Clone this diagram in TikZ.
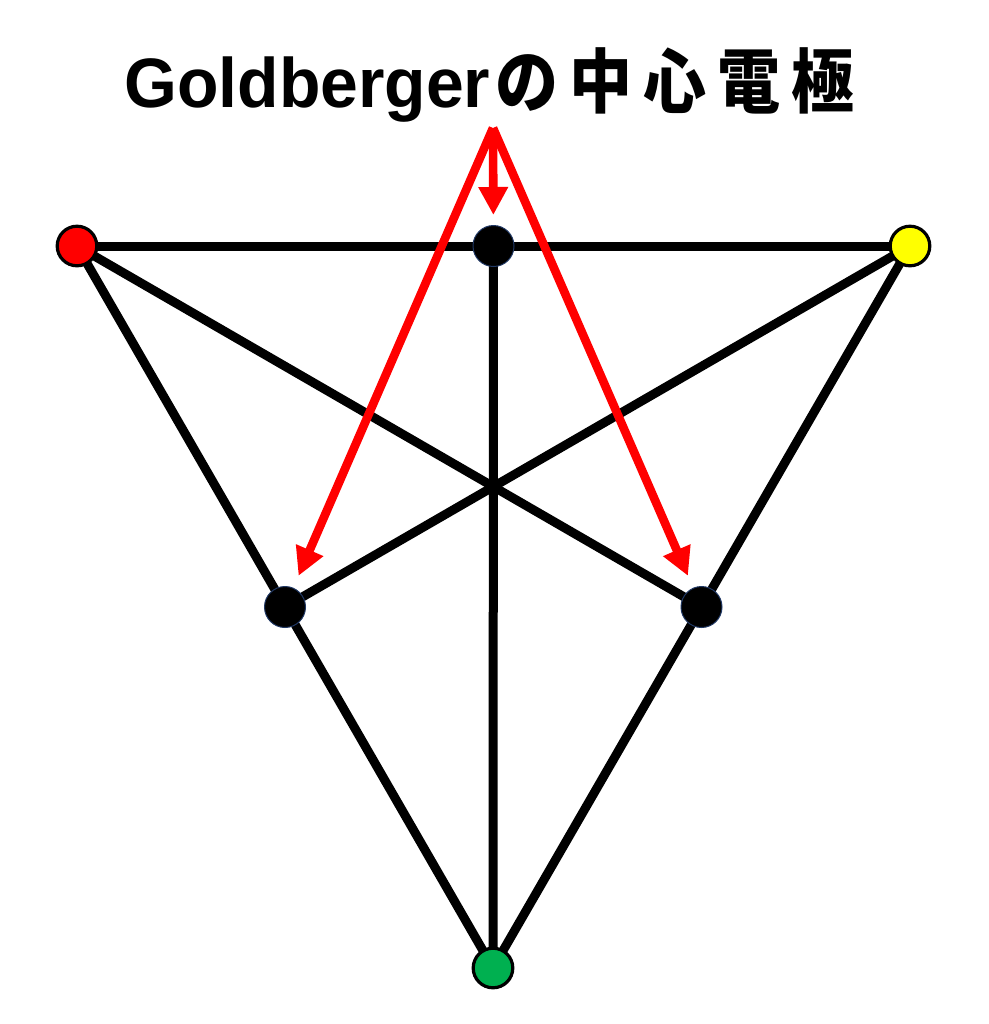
\documentclass[tikz,border=0pt]{standalone}
\usepackage{fontspec}
\setmainfont{Liberation Sans}
\newfontfamily\cjk{Noto Sans CJK JP}
\usetikzlibrary{arrows.meta,backgrounds}
\definecolor{navyrim}{HTML}{203864}
\definecolor{gfill}{HTML}{00B050}
\definecolor{yfill}{HTML}{FFFF00}
\definecolor{rfill}{HTML}{FF0000}
\newcommand{\jchar}[1]{\makebox[37pt]{\scalebox{0.9}[1]{#1}}}
\tikzset{
  lead/.style={line width=4.5pt, black, line cap=round},
  pointer/.style={line width=4.3pt, rfill, -{Triangle[length=14pt,width=14pt]}},
  limbdot/.style={circle, draw=black, line width=1.6pt, minimum size=19.8pt, inner sep=0pt},
  centraldot/.style={circle, fill=black, draw=navyrim, line width=0.5pt, minimum size=20.5pt, inner sep=0pt},
  titlefont/.style={font=\fontsize{35}{40}\selectfont\bfseries},
}
\begin{document}
\begin{tikzpicture}[x=0.5pt,y=-0.5pt]
\useasboundingbox (0,0) rectangle (989,1024);
% limb electrodes
\node[limbdot, fill=rfill] (ra) at (77,246) {};
\node[limbdot, fill=yfill] (la) at (910,246) {};
\node[limbdot, fill=gfill] (ll) at (493,968) {};
% Goldberger central terminals
\node[centraldot] (ctop) at (493.5,246) {};
\node[centraldot] (cleft) at (285,607) {};
\node[centraldot] (cright) at (701.5,607) {};
\begin{pgfonlayer}{background}
\draw[lead] (ra.center) -- (la.center);
\draw[lead] (ra.center) -- (ll.center);
\draw[lead] (la.center) -- (ll.center);
\draw[lead] (ra.center) -- (cright.center);
\draw[lead] (la.center) -- (cleft.center);
\draw[lead] (ctop.center) -- (ll.center);
\end{pgfonlayer}
% title
\node[anchor=base west, inner sep=0pt, titlefont] (title) at (124,107)
  {\scalebox{0.97}[1]{Goldberger}};
\node[anchor=base west, inner sep=0pt, titlefont] (titlejp) at (490,107)
  {\cjk\bfseries\jchar{の}\jchar{中}\jchar{心}\jchar{電}\jchar{極}};
% arrows
\coordinate (apex) at (493,128);
\draw[pointer, shorten >=5pt] (apex) -- (ctop);
\draw[pointer, shorten >=6.5pt] (apex) -- (cleft);
\draw[pointer, shorten >=6.5pt] (apex) -- (cright);
\end{tikzpicture}
\end{document}
